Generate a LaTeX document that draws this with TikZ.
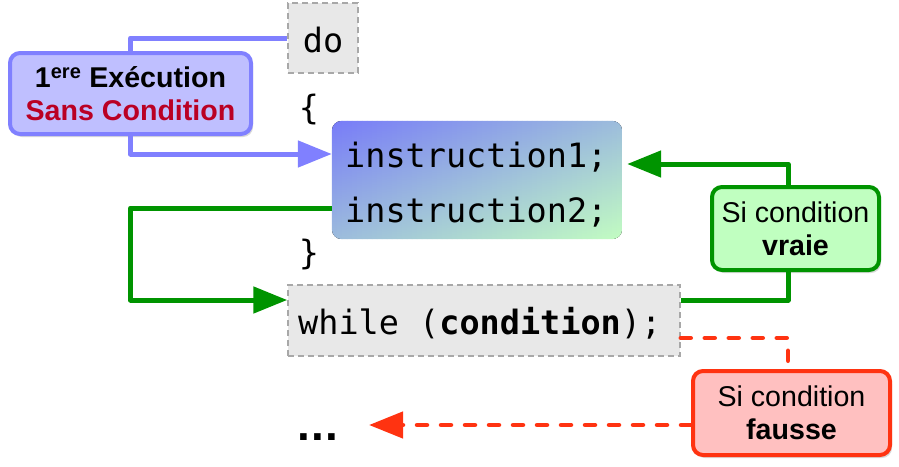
\documentclass[tikz,border=0pt]{standalone}
\usepackage{fontspec}
\setmainfont{Liberation Sans}
\setmonofont{DejaVu Sans Mono}
\usetikzlibrary{arrows.meta,shadows,calc}
\definecolor{cblue}{HTML}{8080FF}
\definecolor{cbluefill}{HTML}{BFBFFF}
\definecolor{cgreen}{HTML}{009400}
\definecolor{cgreenfill}{HTML}{C0FFC0}
\definecolor{cred}{HTML}{FF3311}
\definecolor{credfill}{HTML}{FFC0C0}
\definecolor{cdarkred}{HTML}{BA0024}
\definecolor{cgray}{HTML}{A8A8A8}
\definecolor{cgrayfill}{HTML}{E8E8E8}
\definecolor{gtl}{HTML}{787CF8}
\definecolor{gmid}{HTML}{9CBCDC}
\definecolor{gbr}{HTML}{C2FCC2}
\begin{document}
\begin{tikzpicture}[x=1pt,y=-1pt,
  codebox/.style={draw=cgray, fill=cgrayfill, dashed, dash pattern=on 6pt off 4pt, line width=1.5pt, inner sep=0pt},
  codetxt/.style={font=\ttfamily\fontsize{33.5}{38}\selectfont, inner sep=0pt},
  labelbox/.style={rounded corners=10pt, line width=4pt, inner sep=0pt, align=center,
    font=\fontsize{28.6}{33}\selectfont,
    drop shadow={shadow xshift=2pt, shadow yshift=-3pt, opacity=0.3}},
  bline/.style={draw=cblue, line width=5pt, line join=round},
  gline/.style={draw=cgreen, line width=5pt, line join=round},
  rline/.style={draw=cred, line width=4.5pt, dash pattern=on 10pt off 14pt, line cap=round},
  bigtip/.style={-{Triangle[length=34pt,width=26pt]}}
]
\useasboundingbox (0,0) rectangle (899,466);

% code boxes
\node[codebox, minimum width=70pt, minimum height=70pt] (do) at (323,38) {};
\node[codetxt] (dotxt) at (323,40) {do};
\node[codetxt] (ob) at (309,110) {\{};
\node[minimum width=290pt, minimum height=118pt, inner sep=0pt] (blk) at (477,180) {};
\begin{scope}
  \clip[rounded corners=10pt] (blk.north west) rectangle (blk.south east);
  \foreach \k in {0,...,57}{
    \pgfmathtruncatemacro{\p}{round(100*\k/57)}
    \fill[top color=gmid!\p!gtl, bottom color=gbr!\p!gmid]
      ($(blk.north west)+(5*\k,0)$) rectangle ($(blk.south west)+(5*\k+5.6,0)$);
  }
\end{scope}
\node[codetxt, anchor=west] (i1) at (345,157) {instruction1;};
\node[codetxt, anchor=west] (i2) at (345,212) {instruction2;};
\node[codetxt] (cb) at (309,255) {\}};
\node[codebox, minimum width=392pt, minimum height=71pt] (wh) at (484,320.5) {};
\node[codetxt, anchor=west] (whtxt) at (298,323) {while (\textbf{condition});};
\node[font=\fontsize{46}{50}\selectfont, inner sep=0pt] (dots) at (318,437) {\bfseries.\kern1pt.\kern1pt.};

% label boxes
\node[labelbox, draw=cblue, fill=cbluefill, minimum width=241pt, minimum height=81pt,
      font=\bfseries\fontsize{28.6}{33}\selectfont] (b1) at (130.5,93.5)
  {1\textsuperscript{ere} Exécution\\\textcolor{cdarkred}{Sans Condition}};
\node[labelbox, draw=cgreen, fill=cgreenfill, minimum width=167pt, minimum height=83pt] (gv) at (795.5,228.5)
  {Si condition\\\textbf{vraie}};
\node[labelbox, draw=cred, fill=credfill, minimum width=197pt, minimum height=84pt] (rf) at (791.5,413)
  {Si condition\\\textbf{fausse}};

% blue connectors
\draw[bline] (do.west) -| (b1.north);
\draw[bline, bigtip] (b1.south) |- ($(blk.west)+(0,-26)$);

% green connectors
\draw[gline, bigtip] ($(blk.west)+(0,28)$) -| ($(b1.south)+(0,80)$) |- ([yshift=20.5pt]wh.west);
\draw[gline] ([yshift=20.5pt]wh.east) -| ([xshift=-7.5pt]gv.south);
\draw[gline, bigtip] ([xshift=-7.5pt]gv.north) |- ($(blk.east)+(5,-16)$);

% red connectors
\draw[rline] ([yshift=-17.5pt]wh.east) -| ([xshift=-3.5pt]rf.north);
\draw[rline, bigtip] ([yshift=-12pt]rf.west) -- ++(-322,0);
\end{tikzpicture}
\end{document}
